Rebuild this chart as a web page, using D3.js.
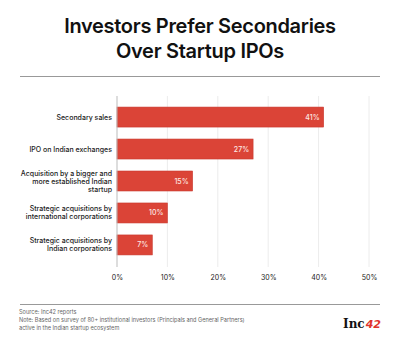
<!DOCTYPE html>
<html>
<head>
<meta charset="utf-8">
<script src="https://cdn.jsdelivr.net/npm/d3@7"></script>
<style>
  body { margin: 0; background: #fff; }
  svg { display: block; }
</style>
</head>
<body>
<svg width="400" height="352"></svg>
<script>
const categories = [
    ["Secondary sales"],
    ["IPO on Indian exchanges"],
    ["Acquisition by a bigger and", "more established Indian", "startup"],
    ["Strategic acquisitions by", "international corporations"],
    ["Strategic acquisitions by", "Indian corporations"]
]
const values = [41, 27, 15, 10, 7]
const ticks = [0, 10, 20, 30, 40, 50]
const titleLines = ["Investors Prefer Secondaries", "Over Startup IPOs"]
const notes = [
    "Source: Inc42 reports",
    "Note: Based on survey of 80+ institutional investors (Principals and General Partners)",
    "active in the Indian startup ecosystem"
]

const svg = d3.select("svg")
const font = "Inter, 'Noto Sans', sans-serif"

const xScale = d3.scaleLinear().domain([0, 50]).range([117, 369])
const yScale = d3.scaleBand().domain(d3.range(values.length)).range([101, 261]).paddingInner(0.375).paddingOuter(0.19)

// title
svg.append("g").selectAll("text")
    .data(titleLines)
    .enter()
    .append("text")
    .attr("x", 200)
    .attr("y", (d, i) => 33 + i * 25)
    .attr("text-anchor", "middle")
    .style("font-family", font)
    .style("font-size", "20px")
    .style("font-weight", 600)
    .style("letter-spacing", "-0.3px")
    .style("fill", "#111")
    .text(d => d)

svg.append("line")
    .attr("x1", 20).attr("x2", 380)
    .attr("y1", 76.5).attr("y2", 76.5)
    .style("stroke", "#999")
    .style("stroke-width", 1)

// grid
svg.append("g").selectAll("line")
    .data(ticks.slice(1))
    .enter()
    .append("line")
    .attr("x1", d => xScale(d)).attr("x2", d => xScale(d))
    .attr("y1", 96).attr("y2", 267)
    .style("stroke", "#ececec")

var xAxis = d3.axisBottom().scale(xScale)
    .tickValues(ticks)
    .tickSize(0)
    .tickPadding(0)
    .tickFormat(d => d + "%")

const axisG = svg.append("g")
    .attr("transform", "translate(0,280)")
    .call(xAxis)
axisG.select(".domain").remove()
axisG.selectAll("text")
    .attr("dy", 0)
    .style("font-family", font)
    .style("font-size", "7px")
    .style("fill", "#222")

// bars
svg.append("g").selectAll("rect")
    .data(values)
    .enter()
    .append("rect")
    .attr("x", xScale(0))
    .attr("y", (d, i) => yScale(i))
    .attr("width", d => xScale(d) - xScale(0))
    .attr("height", yScale.bandwidth())
    .style("fill", "#db4437")
    .style("stroke", "#c9382d")
    .style("stroke-width", 0.6)

svg.append("g").selectAll("text")
    .data(values)
    .enter()
    .append("text")
    .attr("x", d => xScale(d) - 4)
    .attr("y", (d, i) => yScale(i) + yScale.bandwidth() / 2 + 2.5)
    .attr("text-anchor", "end")
    .style("font-family", font)
    .style("font-size", "7px")
    .style("font-weight", 500)
    .style("fill", "#fde8e4")
    .text(d => d + "%")

// vertical zero line
svg.append("line")
    .attr("x1", xScale(0)).attr("x2", xScale(0))
    .attr("y1", 96).attr("y2", 267)
    .style("stroke", "#bbb")

// category labels
svg.append("g").selectAll("text")
    .data(categories)
    .enter()
    .append("text")
    .attr("text-anchor", "end")
    .style("font-family", font)
    .style("font-size", "7px")
    .style("font-weight", 500)
    .style("fill", "#1a1a1a")
    .each(function (d, i) {
        const cy = yScale(i) + yScale.bandwidth() / 2
        const lh = 8
        d3.select(this).selectAll("tspan")
            .data(d)
            .enter()
            .append("tspan")
            .attr("x", 112)
            .attr("y", (t, j) => cy + 2.5 + (j - (d.length - 1) / 2) * lh)
            .text(t => t)
    })

// footer
svg.append("line")
    .attr("x1", 20).attr("x2", 380)
    .attr("y1", 304.5).attr("y2", 304.5)
    .style("stroke", "#999")

svg.append("g").selectAll("text")
    .data(notes)
    .enter()
    .append("text")
    .attr("x", 19)
    .attr("y", (d, i) => 314 + i * 8)
    .style("font-family", font)
    .style("font-size", "5.6px")
    .style("fill", "#666")
    .text(d => d)

const logo = svg.append("text")
    .attr("x", 381)
    .attr("y", 328)
    .attr("text-anchor", "end")
    .style("font-family", "'DejaVu Serif', serif")
    .style("font-weight", "bold")
    .style("font-size", "12px")
logo.append("tspan").style("fill", "#111").text("Inc")
logo.append("tspan").style("fill", "#e0342c").style("font-style", "italic").style("font-family", "'DejaVu Sans', sans-serif").style("font-size", "11px").attr("dx", 1).text("42")
</script>
</body>
</html>
